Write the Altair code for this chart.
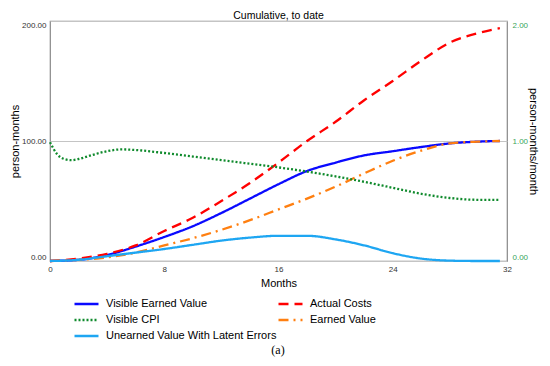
import altair as alt
import pandas as pd

# ---- data ----
months = [0, 2, 4, 6, 8, 10, 12, 14, 16, 18, 20, 22, 24, 26, 28, 30, 31.5]
visible_earned_value = [0, 1, 5, 12, 20, 29, 40, 52, 64, 75, 82, 88, 91.5, 95, 98, 99.5, 100]
actual_costs = [0, 2, 6, 13, 25, 36, 50, 65, 82, 100, 116, 134, 150, 167, 182, 190, 194]
earned_value = [0, 1, 3, 7, 13, 19, 26, 34, 43, 52, 62, 73, 83.5, 92, 98, 99.5, 100]
unearned_latent = [0, 1, 4, 7, 10, 13.5, 17, 19.5, 21, 21, 18, 13, 6.5, 2, 0.3, 0, 0]

cpi_months = [0, 0.5, 1, 1.5, 2, 3, 4, 5, 6, 8, 10, 12, 14, 16, 18, 20, 22, 24, 26, 28, 30, 31.5]
visible_cpi = [0.99, 0.89, 0.85, 0.84, 0.85, 0.885, 0.915, 0.93, 0.925, 0.90, 0.87, 0.84,
               0.81, 0.78, 0.745, 0.705, 0.66, 0.61, 0.56, 0.525, 0.51, 0.51]

# legend is filled column by column: left column first, then right column
series_order = ["Visible Earned Value", "Visible CPI", "Unearned Value With Latent Errors",
                "Actual Costs", "Earned Value"]
series_colors = ["#0a0aff", "#0f8a2c", "#1ea6f2", "#ff0000", "#ff7f10"]
series_dashes = [[1, 0], [2, 2], [1, 0], [10, 6], [10, 5, 2, 5]]
x_ticks = [0, 8, 16, 24, 32]
left_ticks = [0, 100, 200]
right_ticks = [0, 1, 2]

rows = []
for name, vals in [("Visible Earned Value", visible_earned_value),
                   ("Actual Costs", actual_costs),
                   ("Earned Value", earned_value),
                   ("Unearned Value With Latent Errors", unearned_latent)]:
    for m, v in zip(months, vals):
        rows.append({"month": m, "value": v, "series": name})
df_left = pd.DataFrame(rows)
df_right = pd.DataFrame({"month": cpi_months, "value": visible_cpi,
                         "series": ["Visible CPI"] * len(cpi_months)})

FONT = "Liberation Sans"

legend = alt.Legend(
    title=None, orient="none", legendX=23, legendY=277, columns=2,
    columnPadding=0, rowPadding=4, symbolType="stroke", symbolSize=576,
    symbolStrokeWidth=2.5, labelFontSize=11, labelFont=FONT, labelColor="#000",
    labelOffset=6, clipHeight=12, labelLimit=300,
)
color = alt.Color("series:N", scale=alt.Scale(domain=series_order, range=series_colors), legend=legend)
dash = alt.StrokeDash("series:N", scale=alt.Scale(domain=series_order, range=series_dashes), legend=legend)

x_enc = alt.X("month:Q", scale=alt.Scale(domain=[0, 32], nice=False),
              axis=alt.Axis(values=x_ticks, format="d", labelFontSize=8, labelFont=FONT,
                            labelColor="#333", ticks=False, domain=False, grid=False,
                            labelFlush=False, labelPadding=4, title="Months",
                            titleFontSize=11, titleFont=FONT, titleFontWeight="normal",
                            titlePadding=4))

left = alt.Chart(df_left).mark_line(strokeWidth=2.3, interpolate="monotone").encode(
    x=x_enc,
    y=alt.Y("value:Q", scale=alt.Scale(domain=[0, 200], nice=False),
            axis=alt.Axis(values=left_ticks, format=".2f", labelFontSize=8, labelFont=FONT,
                          labelColor="#333", labelFlush=True, ticks=False, domain=False,
                          grid=True, gridColor="#c4c4c4", labelPadding=4,
                          title="person-months", titleFontSize=11, titleFont=FONT,
                          titleFontWeight="normal", titlePadding=1)),
    color=color, strokeDash=dash,
)

right = alt.Chart(df_right).mark_line(strokeWidth=2.3, interpolate="monotone").encode(
    x=x_enc,
    y=alt.Y("value:Q", scale=alt.Scale(domain=[0, 2], nice=False),
            axis=alt.Axis(orient="right", values=right_ticks, format=".2f", labelFontSize=8,
                          labelFont=FONT, labelColor="#3aa55a", labelFlush=True, ticks=False,
                          domain=False, grid=False, labelPadding=5,
                          title="person-months/month", titleFontSize=11, titleFont=FONT,
                          titleFontWeight="normal", titlePadding=0)),
    color=color, strokeDash=dash,
)

caption = alt.Chart(pd.DataFrame({"t": ["(a)"]})).mark_text(
    font="Liberation Serif", fontSize=12, baseline="middle", align="center", color="#000"
).encode(text="t:N", x=alt.value(228), y=alt.value(329))

chart = alt.layer(left, right, caption).resolve_scale(y="independent").properties(
    width=457, height=240,
    title=alt.TitleParams("Cumulative, to date", fontSize=10.5, font=FONT,
                          fontWeight="normal", anchor="middle", offset=0, color="#000"),
    padding={"left": 42, "top": 13, "right": 35, "bottom": 97},
    autosize="none",
).configure_view(stroke="#888", strokeWidth=1.2)

chart.save("out.html", embed_options={"renderer": "svg", "actions": False})
